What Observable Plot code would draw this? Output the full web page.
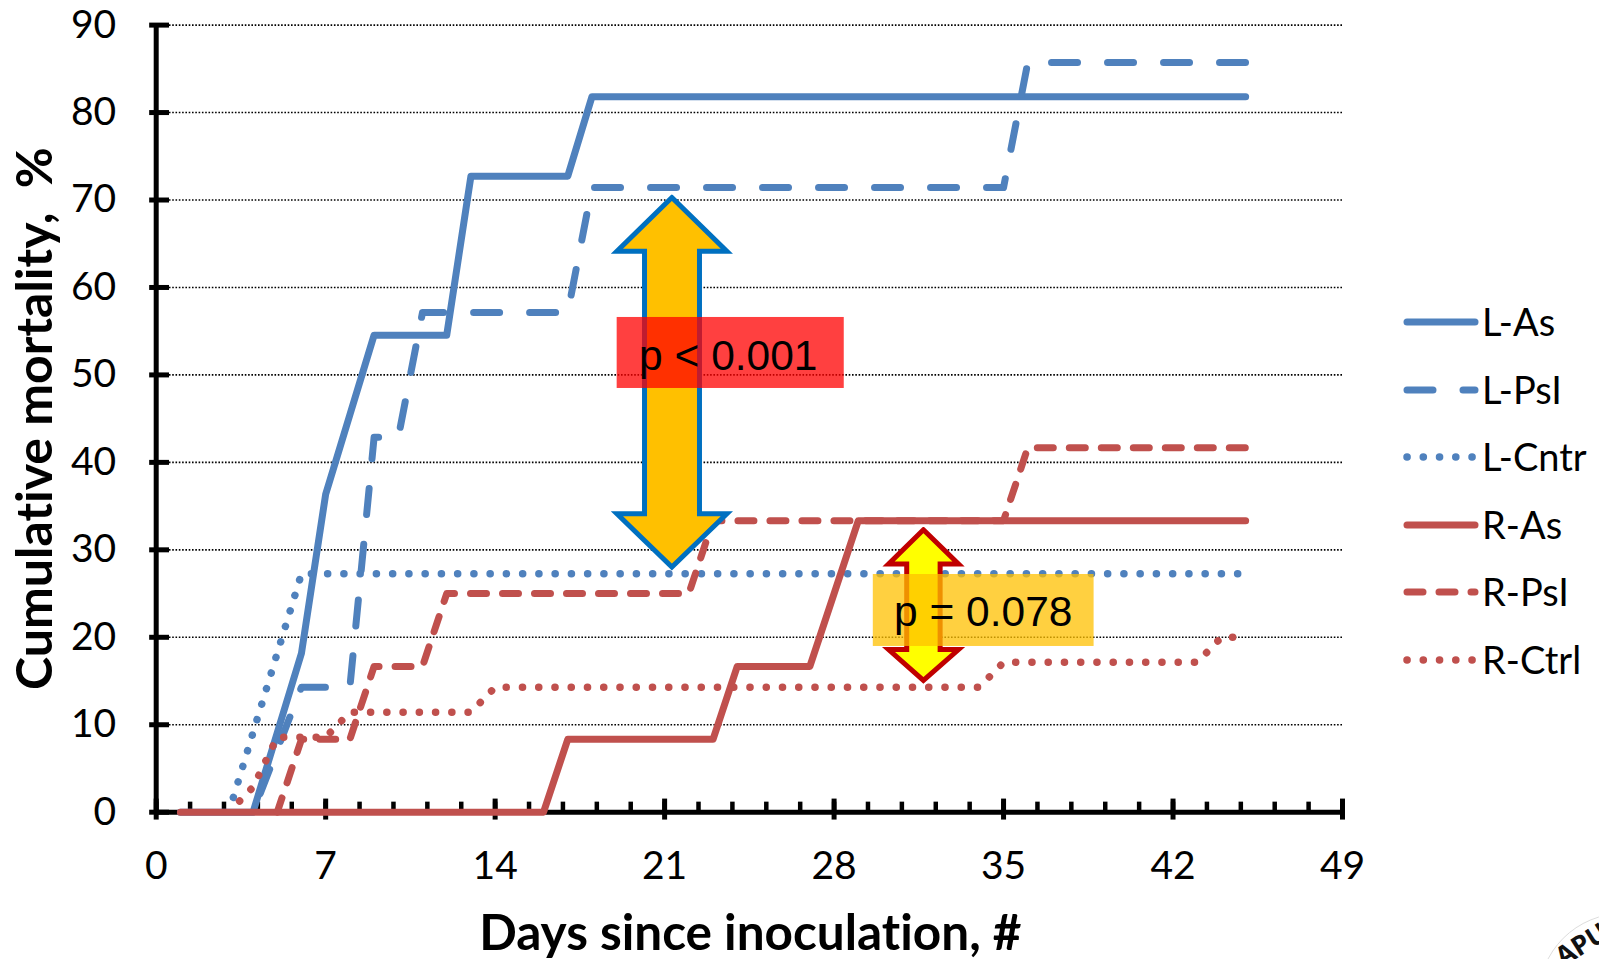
<!DOCTYPE html>
<html>
<head>
<meta charset="utf-8">
<script src="https://cdn.jsdelivr.net/npm/d3@7"></script>
<script src="https://cdn.jsdelivr.net/npm/@observablehq/plot@0.6"></script>
<style>
html,body{margin:0;padding:0;background:#fff;width:1599px;height:959px;overflow:hidden;position:relative}
svg{display:block;font-variant-ligatures:none}
#legend{position:absolute;left:1403px;top:288px;font-family:Lato,sans-serif;font-size:38px;color:#000;font-variant-ligatures:none}
#legend .row{position:relative;height:67.5px;width:194px}
#legend svg{position:absolute;left:0;top:29px;overflow:visible}
#legend span{position:absolute;left:79px;top:11px;line-height:44px;white-space:nowrap}
#stamp{position:absolute;left:1553px;top:925px;font:bold 27px "Open Sans",sans-serif;transform:rotate(-32deg);color:#111}
#ring{position:absolute;left:1538px;top:913px;width:168px;height:168px;border:1px solid #ddd;border-radius:50%}
</style>
</head>
<body>
<div id="chart"></div>
<div id="legend"></div>
<div id="ring"></div>
<div id="stamp">APU</div>
<script>
const blue = "#4F81BD", red = "#C0504D";

const lAsDays   = [1, 4, 5, 6, 7, 8, 9, 12, 13, 17, 18, 45];
const lAsValues = [0, 0, 9.09, 18.18, 36.36, 45.45, 54.55, 54.55, 72.73, 72.73, 81.82, 81.82];

const lPsiDays   = [4, 5, 6, 8, 9, 10, 11, 17, 18, 35, 36, 45];
const lPsiValues = [0, 7.14, 14.29, 14.29, 42.86, 42.86, 57.14, 57.14, 71.43, 71.43, 85.71, 85.71];

const lCntrDays   = [3, 4, 5, 6, 45];
const lCntrValues = [0, 9.09, 18.18, 27.27, 27.27];

const rAsDays   = [1, 16, 17, 23, 24, 27, 28, 29, 45];
const rAsValues = [0, 0, 8.33, 8.33, 16.67, 16.67, 25, 33.33, 33.33];

const rPsiDays   = [5, 6, 8, 9, 11, 12, 22, 23, 35, 36, 45];
const rPsiValues = [0, 8.33, 8.33, 16.67, 16.67, 25, 25, 33.33, 33.33, 41.67, 41.67];

const rCtrlDays   = [3, 4, 5, 7, 8, 13, 14, 34, 35, 43, 44, 45];
const rCtrlValues = [0, 2.86, 8.57, 8.57, 11.43, 11.43, 14.29, 14.29, 17.14, 17.14, 20, 20];

const seriesNames = ["L-As", "L-PsI", "L-Cntr", "R-As", "R-PsI", "R-Ctrl"];
const seriesDays = [lAsDays, lPsiDays, lCntrDays, rAsDays, rPsiDays, rCtrlDays];
const seriesValues = [lAsValues, lPsiValues, lCntrValues, rAsValues, rPsiValues, rCtrlValues];
const seriesColors = [blue, blue, blue, red, red, red];
const seriesDash = [null, "26 30", "0.1 16.15", null, "16 16", "0.1 16.15"];
const seriesDashOffset = [0, -20, 0.8, 0, 1, 0.8];
const seriesWidth = [7, 7, 7.5, 7, 7, 7.5];

const xTicks = [0, 7, 14, 21, 28, 35, 42, 49];
const xMinorTicks = d3.range(0, 49.01, 1.4);
const yTicks = [0, 10, 20, 30, 40, 50, 60, 70, 80, 90];

const arrow1Days = [21.30, 23.57, 22.44, 22.44, 23.57, 21.30, 19.03, 20.17, 20.17, 19.03, 21.30];
const arrow1Values = [70.29, 64.14, 64.14, 34.13, 34.13, 28.04, 34.13, 34.13, 64.14, 64.14, 70.29];
const arrow2Days = [31.69, 33.14, 32.38, 32.38, 33.14, 31.69, 30.25, 31.0, 31.0, 30.25, 31.69];
const arrow2Values = [32.3, 28.39, 28.39, 18.6, 18.6, 15.08, 18.6, 18.6, 28.39, 28.39, 32.3];

const pBoxes = [
  {x1: 19.04, x2: 28.42, y1: 48.45, y2: 56.57, fill: "#FF0000", label: "p < 0.001", lx: 23.63, ly: 52.1},
  {x1: 29.62, x2: 38.74, y1: 18.95, y2: 27.18, fill: "#FFC000", label: "p = 0.078", lx: 34.16, ly: 22.9}
];

const toRows = (days, values) => days.map((d, i) => ({d, v: values[i]}));

const lineMarks = seriesNames.map((name, i) =>
  Plot.line(toRows(seriesDays[i], seriesValues[i]), {
    x: "d", y: "v",
    stroke: seriesColors[i],
    strokeWidth: seriesWidth[i],
    strokeDasharray: seriesDash[i],
    strokeDashoffset: seriesDashOffset[i],
    strokeLinecap: "round",
    strokeLinejoin: "round"
  })
);

const chart = Plot.plot({
  width: 1599,
  height: 959,
  marginLeft: 155.7,
  marginRight: 257,
  marginTop: 24.6,
  marginBottom: 147.3,
  style: {fontFamily: "Lato, sans-serif", background: "#fff", overflow: "visible"},
  x: {domain: [0, 49]},
  y: {domain: [0, 90]},
  marks: [
    Plot.ruleY(yTicks.slice(1), {x1: 0, x2: 49, stroke: "#000", strokeWidth: 1.6, strokeDasharray: "1.6 1.7"}),
    Plot.axisX({ticks: xTicks, tickSize: 0, tickPadding: 39, fontSize: 39, label: null, anchor: "bottom"}),
    Plot.axisY({ticks: yTicks, tickSize: 0, tickPadding: 40, fontSize: 39, label: null, anchor: "left"}),
    Plot.ruleX(xMinorTicks, {y1: 0, y2: 1.15, stroke: "#000", strokeWidth: 4.5}),
    Plot.ruleX(xTicks, {y1: -0.9, y2: 1.5, stroke: "#000", strokeWidth: 5}),
    Plot.ruleY(yTicks, {x1: -0.27, x2: 0.55, stroke: "#000", strokeWidth: 5}),
    Plot.ruleX([0], {y1: 0, y2: 90, stroke: "#000", strokeWidth: 5}),
    Plot.ruleY([0], {x1: 0, x2: 49, stroke: "#000", strokeWidth: 5}),
    ...lineMarks,
    Plot.line(toRows(arrow1Days, arrow1Values), {x: "d", y: "v", fill: "#FFC000", stroke: "#0070C0", strokeWidth: 5, strokeLinejoin: "miter", strokeMiterlimit: 10}),
    Plot.line(toRows(arrow2Days, arrow2Values), {x: "d", y: "v", fill: "#FFFF00", stroke: "#C00000", strokeWidth: 5, strokeLinejoin: "miter", strokeMiterlimit: 10}),
    Plot.rect(pBoxes, {x1: "x1", x2: "x2", y1: "y1", y2: "y2", fill: "fill", fillOpacity: 0.75}),
    Plot.text(pBoxes, {x: "lx", y: "ly", text: "label", fontSize: 42.5, fill: "#000"}),
    Plot.text(["Days since inoculation, #"], {x: 24.54, y: -13.9, text: d => d, fontSize: 49.5, fontWeight: "bold", fill: "#000"}),
    Plot.text(["Cumulative mortality,  %"], {x: -4.95, y: 45, text: d => d, fontSize: 50, fontWeight: "bold", rotate: -90, fill: "#000"})
  ]
});
d3.select(chart).selectAll("text")
  .filter(function () { return this.textContent.startsWith("p "); })
  .style("font-family", '"Liberation Sans", Arial, sans-serif');
document.getElementById("chart").append(chart);

const legend = d3.select("#legend");
seriesNames.forEach((name, i) => {
  const row = legend.append("div").attr("class", "row");
  const s = row.append("svg").attr("width", 76).attr("height", 10);
  s.append("line")
    .attr("x1", 4).attr("x2", 72).attr("y1", 5).attr("y2", 5)
    .attr("stroke", seriesColors[i])
    .attr("stroke-width", seriesWidth[i])
    .attr("stroke-linecap", "round")
    .attr("stroke-dasharray", seriesDash[i]);
  row.append("span").text(name);
});
</script>
</body>
</html>
